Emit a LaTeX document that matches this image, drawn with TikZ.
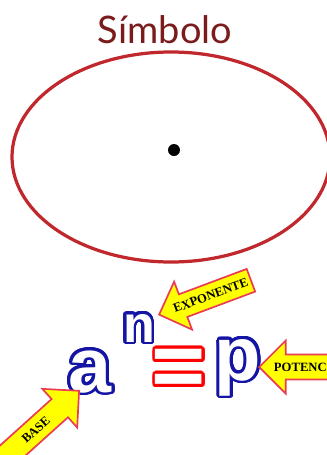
\documentclass[tikz,border=0pt]{standalone}
\usepackage{fontspec}
\usepackage{contour}
\usetikzlibrary{shapes.arrows,positioning}
\newfontfamily\titlefont{Lato}
\newfontfamily\letterfont{Liberation Sans}
\newfontfamily\tagfont{Liberation Serif}
\definecolor{titlered}{RGB}{122,28,28}
\definecolor{ringred}{RGB}{192,40,45}
\definecolor{letterblue}{RGB}{20,20,165}
\definecolor{tagyellow}{RGB}{255,255,0}
\definecolor{tagrim}{RGB}{235,60,85}
\contourlength{2pt}
\contournumber{32}
\tikzset{
    letter/.style={inner sep=0pt, anchor=base, font=\letterfont\bfseries},
    tag/.style={single arrow, draw=tagrim, fill=tagyellow, line width=1.2pt,
        inner xsep=1pt, inner ysep=4pt, single arrow head extend=0.3cm, anchor=tip,
        font=\tagfont\bfseries\fontsize{9}{10}\selectfont},
    ring/.style={draw=ringred, line width=2.3pt}
}
\begin{document}
\begin{tikzpicture}[x=0.025cm, y=-0.025cm]
    \useasboundingbox (0,0) rectangle (327,455);
    \clip (0,0) rectangle (327,455);
    % Nodes
    \node[font=\titlefont\fontsize{27}{30}\selectfont, text=titlered] (title) at (165,30) {Símbolo};
    \draw[ring] (171,157) ellipse [x radius=159, y radius=105];
    \fill (174,150) circle [radius=6];

    \node[letter, font=\letterfont\bfseries\fontsize{55}{60}\selectfont] (base) at (90,392) {\color{white}\contour{letterblue}{a}};
    \node[letter, font=\letterfont\bfseries\fontsize{37}{40}\selectfont] (expo) at (139,342) {\color{white}\contour{letterblue}{n}};
    \node[inner sep=0pt, font=\letterfont\bfseries\fontsize{66}{70}\selectfont] (equal) at (179,375) {\color{white}\contour{red}{=}};
    \node[letter, font=\letterfont\bfseries\fontsize{54}{58}\selectfont] (pot) at (238,380) {\color{white}\contour{letterblue}{p}};

    % arrows
    \node[tag, shape border rotate=180, rotate=20.5, minimum height=2.45cm, minimum width=1.28cm] (expotag) at (158,315) {EXPONENTE};
    \node[tag, rotate=42, minimum height=2.6cm, minimum width=1.3cm] (basetag) at (80,390) {BASE};
    \node[tag, shape border rotate=180, minimum height=2.0cm, minimum width=1.33cm] (pottag) at (258,367) {POTENCIA};
\end{tikzpicture}
\end{document}
